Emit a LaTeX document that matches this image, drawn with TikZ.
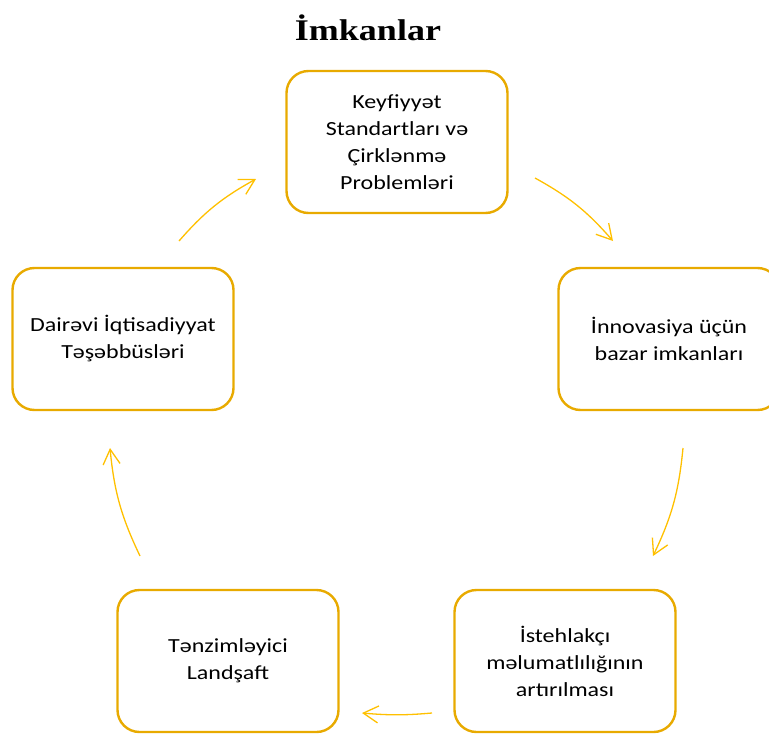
\documentclass[tikz,border=0pt]{standalone}
\usepackage{fontspec}
\setmainfont{Carlito}[FakeStretch=1.2]
\newfontfamily\titlefont{Liberation Serif}[FakeStretch=1.2]
\usetikzlibrary{arrows.meta}
\definecolor{boxgold}{HTML}{E8AA00}
\definecolor{arrowgold}{HTML}{FFC000}

\begin{document}
\begin{tikzpicture}[x=1pt, y=-1pt,
    main/.style = {draw=boxgold, line width=2.4pt, rounded corners=22pt, minimum width=221pt, minimum height=142pt, align=center, font=\fontsize{20}{27}\selectfont},
    arr/.style = {draw=arrowgold, line width=1.3pt, -{Straight Barb[length=15pt, width=17pt]}}]
    \useasboundingbox (0,0) rectangle (769,734);
    \node (title) at (368,28) {\titlefont\fontsize{30}{36}\selectfont\bfseries İmkanlar};
    \node[main] (keyfiyyet) at (397,142) {Keyfiyyət\\Standartları və\\Çirklənmə\\Problemləri};
    \node[main] (innovasiya) at (669,339) {İnnovasiya üçün\\bazar imkanları};
    \node[main] (istehlakci) at (565,661) {İstehlakçı\\məlumatlılığının\\artırılması};
    \node[main] (tenzimleyici) at (228,661) {Tənzimləyici\\Landşaft};
    \node[main] (dairevi) at (123,339) {Dairəvi İqtisadiyyat\\Təşəbbüsləri};
    \coordinate (s1) at (535,178);
    \coordinate (e1) at (613,241);
    \coordinate (s2) at (683,448);
    \coordinate (e2) at (653,556);
    \coordinate (s3) at (432,713);
    \coordinate (e3) at (362,713);
    \coordinate (s4) at (140,556);
    \coordinate (e4) at (110,448);
    \coordinate (s5) at (179,241);
    \coordinate (e5) at (256,179);
    \draw[arr] (s1) to[bend left=10] (e1);
    \draw[arr] (s2) to[bend left=10] (e2);
    \draw[arr] (s3) to[bend left=5] (e3);
    \draw[arr] (s4) to[bend left=10] (e4);
    \draw[arr] (s5) to[bend left=10] (e5);
\end{tikzpicture}
\end{document}
